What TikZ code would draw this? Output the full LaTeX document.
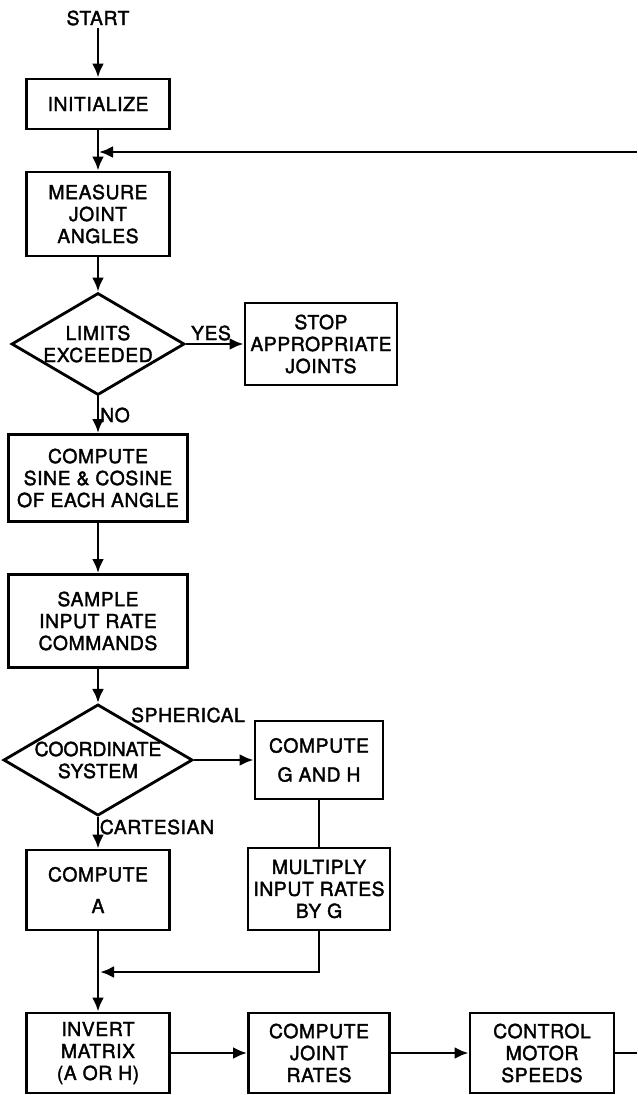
\documentclass[tikz,border=0pt]{standalone}
\usepackage{fontspec}
\setmainfont{TeX Gyre Heros}[LetterSpace=3, FakeBold=1.8]
\usepackage{tikz}
\usetikzlibrary{
  positioning, shapes.geometric, arrows.meta
}
\tikzset{
	boxnode/.style={
			rectangle,
			draw=black,
			line width=1.6pt,
			fill=white,
			align=center,
			inner sep=0pt,
			font=\fontsize{11}{12.5}\selectfont
		},
	decisionnode/.style={
			boxnode,
			diamond,
			aspect=1.7
		},
	labelnode/.style={
			draw=none,
			inner sep=1pt,
			font=\fontsize{11}{12.5}\selectfont
		},
	flowline/.style={
			draw=black,
			line width=1.6pt,
			-{Latex[length=2.8mm, width=2.4mm]}
		},
	plainline/.style={
			flowline,
			-
		}
}

\begin{document}
\begin{tikzpicture}[x=0.2mm, y=-0.2mm]
\useasboundingbox (0,0) rectangle (637,1095);

\node[labelnode] (nStart) at (98,18) {START};
\node[boxnode, minimum width=2.86cm, minimum height=1cm] (nInit) at (98,104) {INITIALIZE};
\coordinate (cJoin) at (99,152);
\coordinate (cBack) at (637,152);
\node[boxnode, minimum width=2.86cm, minimum height=1.68cm] (nMeasure) at (98,214) {MEASURE\\JOINT\\ANGLES};
\node[decisionnode, minimum width=3.46cm, minimum height=2.04cm] (nLimits) at (98,344) {LIMITS\\EXCEEDED};
\node[boxnode, minimum width=3.04cm, minimum height=1.64cm] (nStop) at (321,344) {STOP\\APPROPRIATE\\JOINTS};
\node[boxnode, minimum width=3.58cm, minimum height=1.74cm] (nSine) at (98,478) {COMPUTE\\SINE \& COSINE\\OF EACH ANGLE};
\node[boxnode, minimum width=3.58cm, minimum height=1.86cm] (nSample) at (98,621) {SAMPLE\\INPUT RATE\\COMMANDS};
\node[decisionnode, minimum width=3.7cm, minimum height=2.12cm] (nCoord) at (98,760) {\addfontfeature{LetterSpace=0}COORDINATE\\SYSTEM};
\node[boxnode, minimum width=2.56cm, minimum height=1.56cm] (nGH) at (319,760) {COMPUTE\\[4pt]G AND H};
\node[boxnode, minimum width=2.86cm, minimum height=1.6cm] (nCompA) at (98,890) {COMPUTE\\[5.5pt]A};
\node[boxnode, minimum width=2.84cm, minimum height=1.64cm] (nMult) at (319,889) {MULTIPLY\\INPUT RATES\\BY G};
\coordinate (cMerge) at (100,972);
\node[boxnode, minimum width=2.86cm, minimum height=1.6cm] (nInvert) at (98,1053) {INVERT\\MATRIX\\(A OR H)};
\node[boxnode, minimum width=2.82cm, minimum height=1.6cm] (nRates) at (319,1053) {COMPUTE\\JOINT\\RATES};
\node[boxnode, minimum width=2.88cm, minimum height=1.6cm] (nMotor) at (542,1053) {CONTROL\\MOTOR\\SPEEDS};
\coordinate (cOut) at (637,1053);

\node[labelnode] (lYes) at (211,333) {YES};
\node[labelnode] (lNo) at (115,415) {NO};
\node[labelnode] (lSpher) at (188,715) {SPHERICAL};
\node[labelnode] (lCart) at (157,827) {CARTESIAN};

\draw[flowline] (nStart) edge (nInit);
\draw[flowline] (nInit) edge (nMeasure);
\draw[flowline] (cBack) -- (cJoin);
\draw[flowline] (nMeasure) edge (nLimits);
\draw[flowline] (nLimits) edge (nStop);
\draw[flowline] (nLimits) edge (nSine);
\draw[flowline] (nSine) edge (nSample);
\draw[flowline] (nSample) edge (nCoord);
\draw[flowline] (nCoord) edge (nGH);
\draw[flowline] (nCoord) edge (nCompA);
\draw[plainline] (nGH) edge (nMult);
\draw[flowline] (nCompA) edge (nInvert);
\draw[flowline] (nMult.south) |- (cMerge);
\draw[flowline] (nInvert) edge (nRates);
\draw[flowline] (nRates) edge (nMotor);
\draw[plainline] (nMotor) -- (cOut);

\end{tikzpicture}
\end{document}
